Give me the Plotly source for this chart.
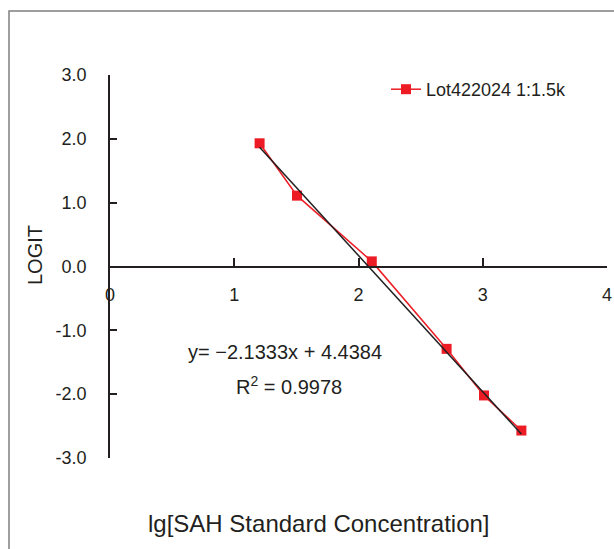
import plotly.graph_objects as go

# Data
lg_conc = [1.204, 1.505, 2.107, 2.709, 3.010, 3.311]
logit = [1.93, 1.11, 0.08, -1.29, -2.02, -2.57]
slope = -2.1333
intercept = 4.4384
series_name = "Lot422024 1:1.5k"
y_ticks = [3.0, 2.0, 1.0, 0.0, -1.0, -2.0, -3.0]
y_tick_text = ["3.0", "2.0", "1.0", "0.0", "-1.0", "-2.0", "-3.0"]
x_ticks = [0, 1, 2, 3, 4]

fit_x = [min(lg_conc), max(lg_conc)]
fit_y = [slope * v + intercept for v in fit_x]

FONT = "Liberation Sans, Arial, sans-serif"

fig = go.Figure()
fig.add_trace(go.Scatter(
    x=lg_conc, y=logit, mode="lines+markers", name=series_name,
    line=dict(color="#ed1c24", width=1.5),
    marker=dict(symbol="square", size=10, color="#ed1c24"),
))
fig.add_trace(go.Scatter(
    x=fit_x, y=fit_y, mode="lines", showlegend=False,
    line=dict(color="#231f20", width=1.5),
))

L, R, T, B = 110, 7, 75, 91
W, H = 614, 549
pw = W - L - R
ph = H - T - B

def px(xp):
    return (xp - L) / pw

def py(yp):
    return 1 - (yp - T) / ph

def label(text, x, y, size, angle=0):
    return dict(text=text, x=px(x), y=py(y), xref="paper", yref="paper",
                xanchor="center", yanchor="middle", textangle=angle,
                showarrow=False, font=dict(size=size))

fig.update_layout(
    width=W, height=H,
    margin=dict(l=L, r=R, t=T, b=B, autoexpand=False),
    paper_bgcolor="white", plot_bgcolor="white",
    font=dict(family=FONT, size=18, color="#231f20"),
    showlegend=True,
    legend=dict(x=px(386), y=py(71), xanchor="left", yanchor="top",
                bgcolor="rgba(0,0,0,0)", font=dict(size=18)),
    xaxis=dict(range=[0, 4], tickvals=x_ticks, showgrid=False, zeroline=False,
               showline=True, linecolor="#231f20", linewidth=1.5,
               ticks="inside", ticklen=8, tickwidth=1.5, tickcolor="#231f20",
               anchor="free", position=0.5, ticklabelstandoff=12),
    yaxis=dict(range=[-3, 3], tickvals=y_ticks, ticktext=y_tick_text,
               showgrid=False, zeroline=False,
               showline=True, linecolor="#231f20", linewidth=1.5,
               ticks="inside", ticklen=7, tickwidth=1.5, tickcolor="#231f20",
               ticklabelstandoff=18),
    shapes=[dict(type="rect", xref="paper", yref="paper",
                 x0=px(9), x1=px(700), y0=py(700), y1=py(11),
                 line=dict(color="#7f7f7f", width=1.5), fillcolor="rgba(0,0,0,0)",
                 layer="below")],
    annotations=[
        label("y= \u22122.1333x + 4.4384", 285, 352, 20),
        label("R<sup>2</sup> = 0.9978", 289, 385, 20),
        label("LOGIT", 35, 255, 20, angle=-90),
        label("lg[SAH Standard Concentration]", 319, 523, 24),
    ],
)

fig.write_html("out.html", config={"displayModeBar": False},
               post_script="document.body.style.margin='0px';")
